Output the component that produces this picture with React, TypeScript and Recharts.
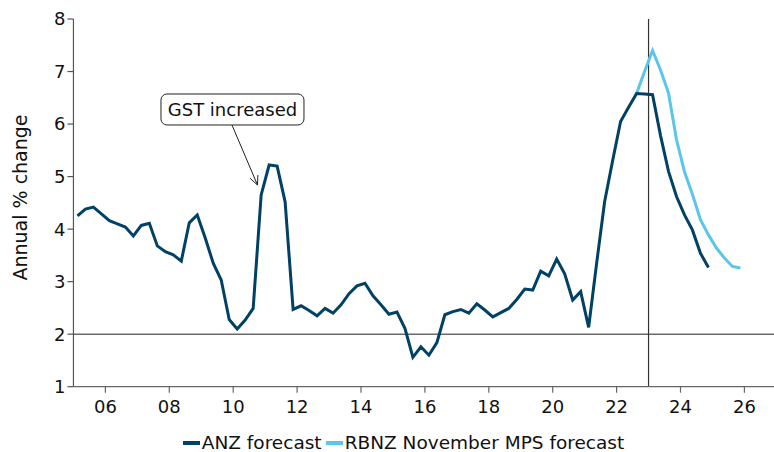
import React from 'react';
import {
  LineChart,
  Line,
  XAxis,
  YAxis,
  ReferenceLine,
  ReferenceDot,
  Legend,
} from 'recharts';

// Quarterly series, first observation 2005 Q1 (plotted at mid-quarter)
const FIRST_YEAR = 2005;

const anzValues: number[] = [
  4.25, 4.38, 4.42, 4.29, 4.16, 4.1, 4.04, 3.87, 4.07, 4.11, 3.68, 3.57, 3.51, 3.39, 4.12, 4.27,
  3.83, 3.35, 3.03, 2.28, 2.1, 2.27, 2.49, 4.65, 5.22, 5.2, 4.52, 2.47, 2.54, 2.45, 2.35, 2.49,
  2.4, 2.56, 2.77, 2.92, 2.97, 2.73, 2.56, 2.38, 2.42, 2.11, 1.56, 1.76, 1.6, 1.84, 2.37, 2.43,
  2.47, 2.4, 2.58, 2.46, 2.33, 2.41, 2.49, 2.66, 2.86, 2.84, 3.2, 3.11, 3.43, 3.15, 2.65, 2.81,
  2.13, 3.35, 4.52, 5.3, 6.05, 6.32, 6.58, 6.57, 6.56, 5.78, 5.1, 4.62, 4.27, 3.98, 3.54, 3.27,
];

// RBNZ November MPS forecast starts at 2022 Q3 (quarter index 70)
const rbnzStartIndex = 70;
const rbnzValues: number[] = [
  6.58, 7.0, 7.4, 7.03, 6.59, 5.7, 5.09, 4.66, 4.18, 3.89, 3.64, 3.45, 3.29, 3.26,
];

const xTicks: number[] = [2006, 2008, 2010, 2012, 2014, 2016, 2018, 2020, 2022, 2024, 2026];
const yTicks: number[] = [1, 2, 3, 4, 5, 6, 7, 8];
const forecastStart = 2023;
const targetLine = 2;

const annotationText = 'GST increased';
const annotationPoint = { x: 2010.76, y: 4.84 };

const seriesNames = { anz: 'ANZ forecast', rbnz: 'RBNZ November MPS forecast' };
const legendOrder = [seriesNames.anz, seriesNames.rbnz];

const DARK = '#004165';
const LIGHT = '#5bc6e8';
const FONT = 'DejaVu Sans, Verdana, sans-serif';

const totalQuarters = Math.max(anzValues.length, rbnzStartIndex + rbnzValues.length);
const data = Array.from({ length: totalQuarters }, (_, i) => ({
  quarter: `${FIRST_YEAR + Math.floor(i / 4)}Q${(i % 4) + 1}`,
  t: FIRST_YEAR + 0.125 + i * 0.25,
  anz: i < anzValues.length ? anzValues[i] : null,
  rbnz:
    i >= rbnzStartIndex && i < rbnzStartIndex + rbnzValues.length
      ? rbnzValues[i - rbnzStartIndex]
      : null,
}));

const GstAnnotation = (props: any) => {
  const { cx, cy } = props;
  if (cx == null || cy == null) return null;
  const sx = cx - 25.5;
  const sy = cy - 60;
  return (
    <g>
      <line x1={sx} y1={sy} x2={cx} y2={cy} stroke="#222" strokeWidth={1} />
      <polyline
        points={`${cx - 7.4},${cy - 6.7} ${cx},${cy} ${cx + 0.4},${cy - 10}`}
        fill="none"
        stroke="#222"
        strokeWidth={1}
      />
      <rect
        x={cx - 96.5}
        y={cy - 91}
        width={143}
        height={31}
        rx={6}
        ry={6}
        fill="#fff"
        stroke="#222"
        strokeWidth={1}
      />
      <text
        x={cx - 25}
        y={cy - 75.5}
        textAnchor="middle"
        dominantBaseline="central"
        fontFamily={FONT}
        fontSize={18}
        fill="#111"
      >
        {annotationText}
      </text>
    </g>
  );
};

const LegendContent = (props: any) => {
  const payload = [...(props.payload || [])].sort(
    (a: any, b: any) => legendOrder.indexOf(a.value) - legendOrder.indexOf(b.value)
  );
  return (
    <div
      style={{
        display: 'flex',
        justifyContent: 'center',
        alignItems: 'center',
        fontFamily: FONT,
        fontSize: 18.5,
        color: '#111',
        whiteSpace: 'nowrap',
      }}
    >
      {payload.map((p: any) => (
        <div key={p.value} style={{ display: 'flex', alignItems: 'center', marginRight: 4 }}>
          <span
            style={{
              display: 'inline-block',
              width: 17,
              height: 4,
              background: p.color,
              marginRight: 2,
            }}
          />
          <span>{p.value}</span>
        </div>
      ))}
    </div>
  );
};

const YLabel = () => (
  <text
    x={20}
    y={197.5}
    transform="rotate(-90 20 197.5)"
    textAnchor="middle"
    dominantBaseline="central"
    fontFamily={FONT}
    fontSize={19}
    fill="#111"
  >
    Annual % change
  </text>
);

export default function App() {
  return (
    <div
      style={{
        position: 'absolute',
        left: 0,
        top: 0,
        width: 774,
        height: 452,
        overflow: 'hidden',
        background: '#fff',
      }}
    >
      <LineChart
        width={777}
        height={452}
        data={data}
        margin={{ top: 19, right: 0.65, bottom: 35.3, left: 0 }}
      >
        <XAxis
          dataKey="t"
          type="number"
          domain={[2005, 2027]}
          ticks={xTicks}
          tickFormatter={(v: number) => String(v % 100).padStart(2, '0')}
          height={30}
          tickSize={6}
          tickMargin={8}
          axisLine={{ stroke: '#666', strokeWidth: 1.2 }}
          tickLine={{ stroke: '#666', strokeWidth: 1.2 }}
          tick={{ fontFamily: FONT, fontSize: 18, fill: '#111' }}
          allowDataOverflow
        />
        <YAxis
          type="number"
          domain={[1, 8]}
          ticks={yTicks}
          width={73.45}
          tickSize={6}
          tickMargin={2}
          axisLine={{ stroke: '#555', strokeWidth: 1.2 }}
          tickLine={{ stroke: '#555', strokeWidth: 1.2 }}
          tick={{ fontFamily: FONT, fontSize: 18, fill: '#111' }}
          label={<YLabel />}
        />
        <ReferenceLine y={targetLine} stroke="#6b6b6b" strokeWidth={1.5} />
        <ReferenceLine x={forecastStart} stroke="#333" strokeWidth={1.2} />
        <Legend
          verticalAlign="middle"
          align="center"
          layout="horizontal"
          content={<LegendContent />}
          wrapperStyle={{ top: 432, left: 0, width: 811, height: 24 }}
        />
        <Line
          type="linear"
          dataKey="rbnz"
          name={seriesNames.rbnz}
          stroke={LIGHT}
          strokeWidth={3}
          dot={false}
          activeDot={false}
          isAnimationActive={false}
        />
        <Line
          type="linear"
          dataKey="anz"
          name={seriesNames.anz}
          stroke={DARK}
          strokeWidth={3}
          dot={false}
          activeDot={false}
          isAnimationActive={false}
        />
        <ReferenceDot
          x={annotationPoint.x}
          y={annotationPoint.y}
          r={1}
          shape={<GstAnnotation />}
        />
      </LineChart>
    </div>
  );
}
